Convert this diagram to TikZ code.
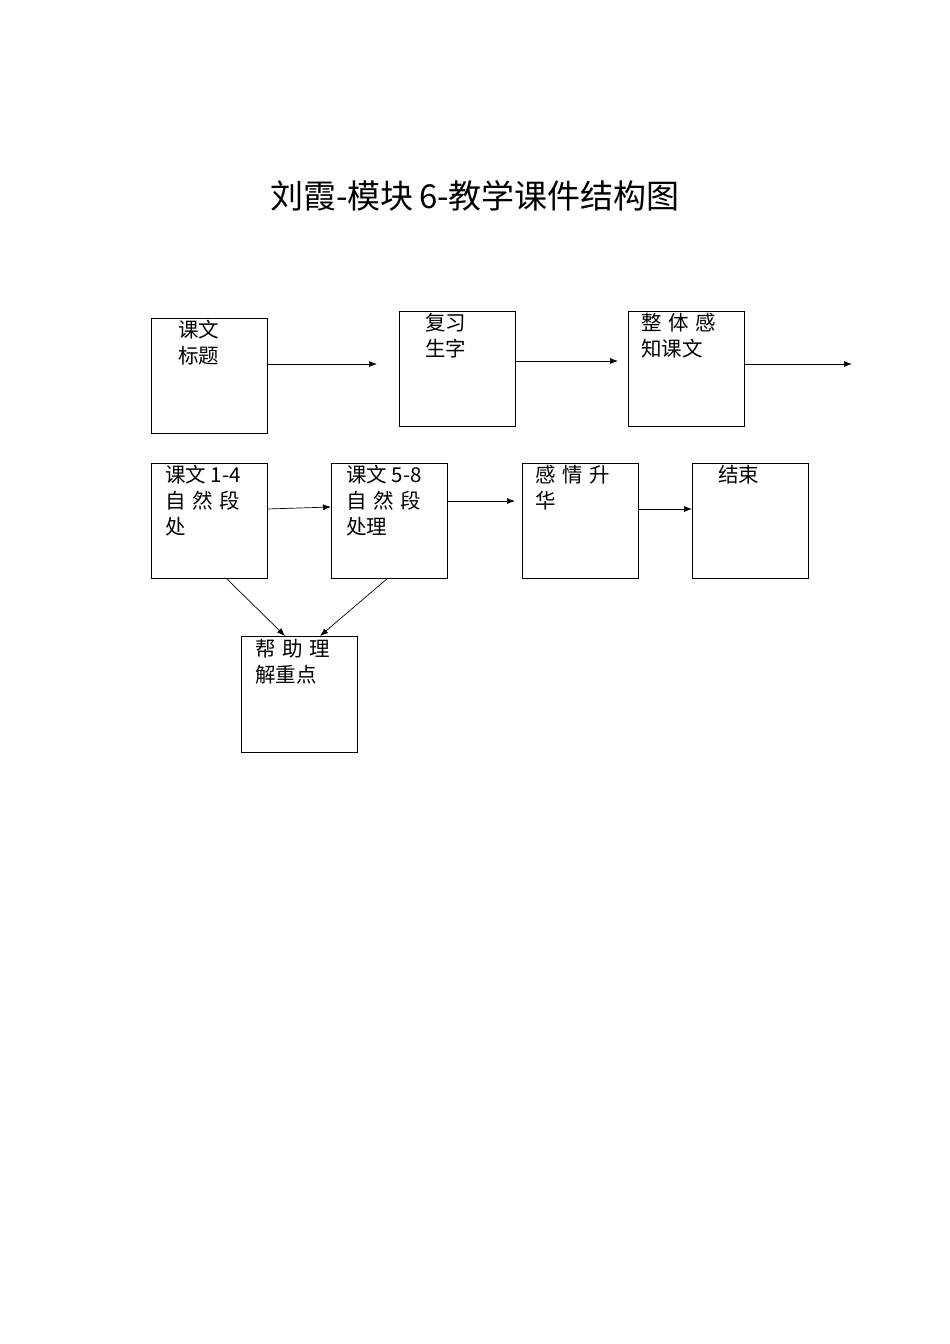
\documentclass[tikz,border=0pt]{standalone}
\usepackage{fontspec}
\usetikzlibrary{arrows.meta}
\setmainfont{Noto Sans CJK SC}
\begin{document}
\begin{tikzpicture}[x=1pt,y=-1pt,
  bx/.style={draw,line width=0.8pt},
  tx/.style={anchor=north west,align=left,font=\fontsize{20.5}{26}\selectfont,inner sep=0pt},
  ar/.style={-{Latex[length=8pt,width=6pt]},line width=0.7pt}]
\useasboundingbox (0,0) rectangle (950,1344);
\node at (475,196) {\fontsize{33}{38}\selectfont 刘霞-模块\,6-教学课件结构图};
\draw[bx] (151,318) rectangle (267,433);
\draw[bx] (399,311) rectangle (515,426);
\draw[bx] (628,311) rectangle (744,426);
\draw[bx] (151,463) rectangle (267,578);
\draw[bx] (331,463) rectangle (447,578);
\draw[bx] (522,463) rectangle (638,578);
\draw[bx] (692,463) rectangle (808,578);
\draw[bx] (241,636) rectangle (357,752);
\node[tx] (t1) at (178,320) {课文\\标题};
\node[tx] (t2) at (425,313) {复习\\生字};
\node[tx] (t3) at (641,313) {整\,\,体\,\,感\\知课文};
\node[tx] (t4) at (165,465) {课文 1-4\\自\,\,然\,\,段\\处};
\node[tx] (t5) at (346,465) {课文 5-8\\自\,\,然\,\,段\\处理};
\node[tx] (t6) at (535,465) {感\,\,情\,\,升\\华};
\node[tx] (t7) at (718,465) {结束};
\node[tx] (t8) at (255,639) {帮\,\,助\,\,理\\解重点};
\coordinate (a1) at (267,364); \coordinate (b1) at (377,364);
\coordinate (a2) at (515,361); \coordinate (b2) at (618,361);
\coordinate (a3) at (744,364); \coordinate (b3) at (852,364);
\coordinate (a4) at (267,509); \coordinate (b4) at (331,507);
\coordinate (a5) at (447,501); \coordinate (b5) at (515,501);
\coordinate (a6) at (638,509); \coordinate (b6) at (692,509);
\coordinate (a7) at (226,578); \coordinate (b7) at (285,636);
\coordinate (a8) at (388,578); \coordinate (b8) at (320,636);
\foreach \i in {1,...,8} \draw[ar] (a\i) -- (b\i);
\end{tikzpicture}
\end{document}
